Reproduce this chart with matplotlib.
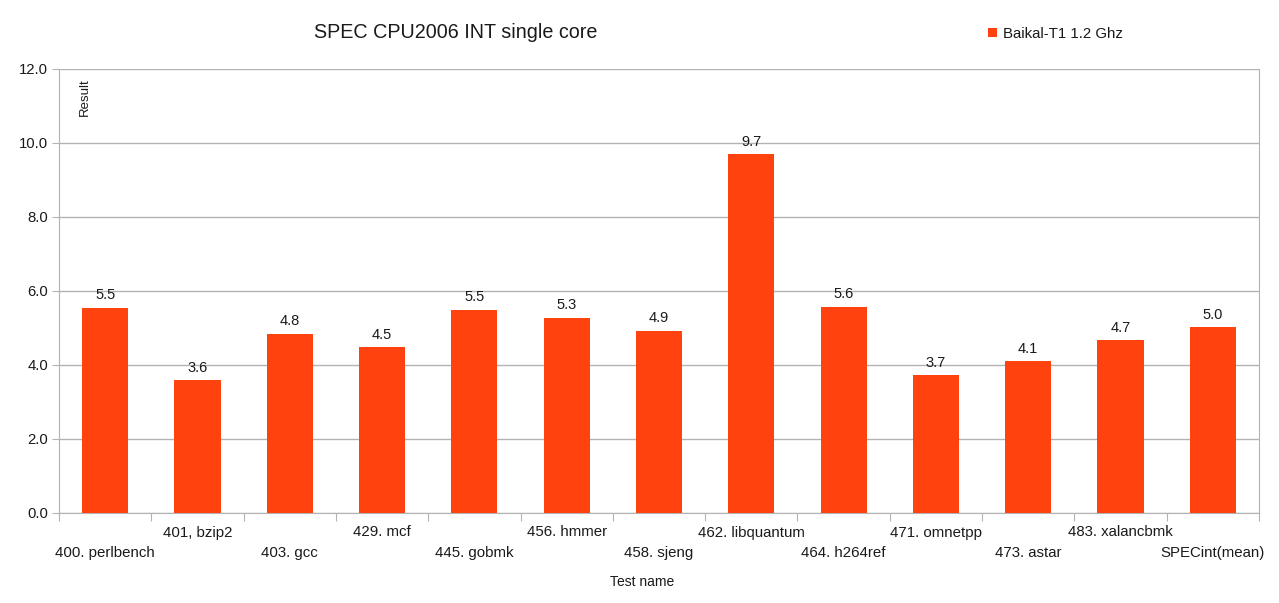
import numpy as np
import matplotlib
matplotlib.use('Agg')
import matplotlib.pyplot as plt

plt.rcParams['font.family'] = ['Liberation Sans', 'DejaVu Sans']

# Data
tests = ['400. perlbench', '401, bzip2', '403. gcc', '429. mcf', '445. gobmk',
         '456. hmmer', '458. sjeng', '462. libquantum', '464. h264ref',
         '471. omnetpp', '473. astar', '483. xalancbmk', 'SPECint(mean)']
results = [5.54, 3.59, 4.84, 4.48, 5.49, 5.28, 4.92, 9.70, 5.57, 3.72, 4.10, 4.67, 5.02]
series_name = 'Baikal-T1 1.2 Ghz'
yticks = [0, 2, 4, 6, 8, 10, 12]

bar_color = '#ff420e'
grid_color = '#b3b3b3'
text_color = '#1a1a1a'

fig = plt.figure(figsize=(12.79, 6.03), dpi=100)
ax = fig.add_axes([59 / 1279, 90 / 603, 1200 / 1279, 444 / 603])

x = np.arange(len(tests))
bars = ax.bar(x, results, width=0.5, color=bar_color, label=series_name, zorder=3)

# value labels above bars
for xi, v in zip(x, results):
    ax.annotate(f'{v:.1f}', (xi, v), xytext=(0, 4), textcoords='offset points',
                ha='center', va='bottom', fontsize=10.5, color=text_color)

ax.set_xlim(-0.5, len(tests) - 0.5)
ax.set_ylim(0, 12)
ax.set_yticks(yticks)
ax.set_yticklabels([f'{t:.1f}' for t in yticks], fontsize=10.7, color=text_color)
ax.yaxis.grid(True, color=grid_color, linewidth=1, zorder=0)

# category boundaries as major ticks, names on minor ticks (staggered)
ax.set_xticks(np.arange(len(tests) + 1) - 0.5)
ax.set_xticklabels([])
ax.set_xticks(x, minor=True)
ax.set_xticklabels(tests, minor=True, fontsize=10.8, color=text_color)
ax.tick_params(axis='x', which='major', length=6, color=grid_color)
ax.tick_params(axis='x', which='minor', length=0)
for i, tick in enumerate(ax.xaxis.get_minor_ticks()):
    tick.set_pad(9 if i % 2 else 24)
ax.tick_params(axis='y', length=5, color=grid_color, pad=3)

for side in ['left', 'bottom', 'right']:
    ax.spines[side].set_color(grid_color)
ax.spines['top'].set_visible(False)

ax.text(0.0217, 0.98, 'Result', transform=ax.transAxes, rotation=90,
        ha='center', va='top', fontsize=9.5, color=text_color)
fig.text(642 / 1279, 1 - 582 / 603, 'Test name', ha='center', va='center',
         fontsize=10, color=text_color)
fig.text(456 / 1279, 1 - 32 / 603, 'SPEC CPU2006 INT single core', ha='center',
         va='center', fontsize=14.2, color=text_color)

ax.legend(loc='center left', bbox_to_anchor=(981 / 1279, 1 - 34 / 603),
          bbox_transform=fig.transFigure, frameon=False, fontsize=10.8,
          handlelength=0.6, handleheight=0.6, handletextpad=0.4, borderpad=0,
          labelcolor=text_color)

fig.savefig('out.png', dpi=100)
